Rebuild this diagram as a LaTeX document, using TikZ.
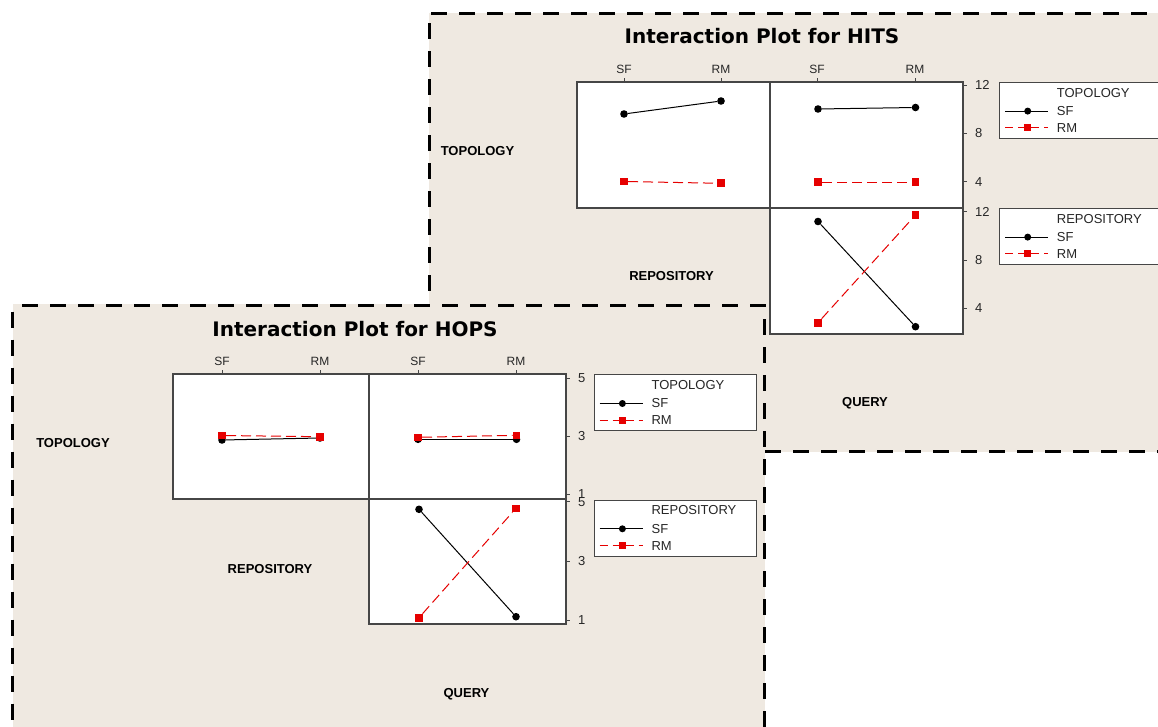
\documentclass[tikz,border=0pt]{standalone}
\usepackage{fontspec}
\setmainfont{Liberation Sans}
\newfontfamily\headfont{DejaVu Sans}
\definecolor{paper}{RGB}{239,233,225}
\definecolor{plotred}{RGB}{230,0,0}
\definecolor{axisgray}{RGB}{70,70,70}
\tikzset{
  panelrule/.style={line width=3.4pt, dash pattern=on 16pt off 12pt},
  plotframe/.style={draw=axisgray, line width=1.2pt, fill=white},
  keyframe/.style={draw=axisgray, line width=1pt, fill=white},
  tickmark/.style={draw=axisgray, line width=0.9pt},
  sfline/.style={black, line width=1pt},
  rmline/.style={plotred, line width=1pt, dash pattern=on 10pt off 5pt},
  keyrm/.style={plotred, line width=1.1pt, dash pattern=on 8pt off 5pt},
  sfdot/.style={circle, fill=black, inner sep=0pt, minimum size=7.6pt},
  rmsq/.style={rectangle, fill=plotred, inner sep=0pt, minimum size=7.6pt},
  plottitle/.style={font=\headfont\bfseries\fontsize{20}{22}\selectfont, anchor=base, inner sep=0pt},
  factorname/.style={font=\bfseries\fontsize{13}{15}\selectfont, inner sep=0pt},
  levelname/.style={font=\fontsize{12}{14}\selectfont, inner sep=0pt, text=black!85},
  ticklabel/.style={font=\fontsize{13}{15}\selectfont, inner sep=0pt, anchor=west, text=black!85},
  keytext/.style={font=\fontsize{13}{15}\selectfont, inner sep=0pt, anchor=west, text=black!85},
}
% legend block: prefix, left x, top y, right x, heading
\newcommand{\factorkey}[5]{%
  \draw[keyframe] (#2,#3) rectangle (#4,#3+56);
  \node[keytext] (#1head) at (#2+57.4,#3+10.3) {#5};
  \coordinate (#1sfA) at (#2+5.7,#3+28.8);
  \coordinate (#1sfB) at (#2+49,#3+28.8);
  \draw[sfline] (#1sfA) -- (#1sfB);
  \node[sfdot, minimum size=7pt] (#1sfMark) at (#2+28.4,#3+28.8) {};
  \node[keytext] (#1sf) at (#2+57.4,#3+28.8) {SF};
  \coordinate (#1rmA) at (#2+5.7,#3+45.6);
  \coordinate (#1rmB) at (#2+49,#3+45.6);
  \draw[keyrm] (#1rmA) -- (#1rmB);
  \node[rmsq, minimum size=7pt] (#1rmMark) at (#2+28.4,#3+45.6) {};
  \node[keytext] (#1rm) at (#2+57.4,#3+45.6) {RM};
}
\begin{document}
\begin{tikzpicture}[x=1pt,y=-1pt]
\clip (0,0) rectangle (1158,727);
\fill[white] (0,0) rectangle (1158,727);

% ================= HITS panel =================
\fill[paper] (429.3,13.3) rectangle (1180,451.7);
\draw[panelrule] (431,13.3) -- (1180,13.3);
\draw[panelrule] (429.3,23.3) -- (429.3,296);
\draw[panelrule] (765,451.7) -- (1180,451.7);

\node[plottitle] (hitsTitle) at (762,43.5) {Interaction Plot for HITS};

\draw[plotframe] (577,82) rectangle (770,208);
\draw[plotframe] (770,82) rectangle (963,208);
\draw[plotframe] (770,208) rectangle (963,334);

\foreach \x/\t [count=\i] in {624/SF,721/RM,817/SF,915/RM} {
  \draw[tickmark] (\x,82) -- (\x,78);
  \node[levelname] (hitsLevel\i) at (\x,69.3) {\t};
}
\foreach \y/\t [count=\i] in {85/12,133.3/8,181.7/4,211.7/12,260/8,308/4} {
  \draw[tickmark] (963,\y) -- (967,\y);
  \node[ticklabel] (hitsTick\i) at (975,\y) {\t};
}

\node[factorname] (hitsRowTop) at (477.5,150.7) {TOPOLOGY};
\node[factorname] (hitsRowMid) at (671.5,276.3) {REPOSITORY};
\node[factorname] (hitsRowBot) at (865,403.3) {QUERY};

% topology x repository
\node[sfdot] (hA1) at (624,114) {};
\node[sfdot] (hA2) at (721,101) {};
\draw[sfline] (hA1) -- (hA2);
\node[rmsq] (hB1) at (624,181.5) {};
\node[rmsq] (hB2) at (721,183.3) {};
\draw[rmline] (hB1) -- (hB2);
% topology x query
\node[sfdot] (hC1) at (818,109) {};
\node[sfdot] (hC2) at (915.5,107.5) {};
\draw[sfline] (hC1) -- (hC2);
\node[rmsq] (hD1) at (818,182.3) {};
\node[rmsq] (hD2) at (915.5,182.3) {};
\draw[rmline] (hD1) -- (hD2);
% repository x query
\node[sfdot] (hE1) at (818,221.5) {};
\node[sfdot] (hE2) at (915.5,326.7) {};
\draw[sfline] (hE1) -- (hE2);
\node[rmsq] (hF1) at (818,322.7) {};
\node[rmsq] (hF2) at (915.5,215) {};
\draw[rmline] (hF1) -- (hF2);

\factorkey{hitsTopo}{999.3}{82.3}{1180}{TOPOLOGY}
\factorkey{hitsRepo}{999.3}{208.3}{1180}{REPOSITORY}

% ================= HOPS panel =================
\fill[paper] (12.5,303.6) rectangle (764.7,740);
\draw[panelrule] (22,305.3) -- (766.4,305.3);
\draw[panelrule] (12.5,311.7) -- (12.5,740);
\draw[panelrule] (764.7,319.3) -- (764.7,740);

\node[plottitle] (hopsTitle) at (355,336.5) {Interaction Plot for HOPS};

\draw[plotframe] (173,374) rectangle (369,499);
\draw[plotframe] (369,374) rectangle (566,499);
\draw[plotframe] (369,499) rectangle (566,624);

\foreach \x/\t [count=\i] in {222/SF,320/RM,418/SF,516/RM} {
  \draw[tickmark] (\x,374) -- (\x,370);
  \node[levelname] (hopsLevel\i) at (\x,361.7) {\t};
}
\foreach \y/\t [count=\i] in {378.5/5,436/3,494/1,501.7/5,561/3,620.5/1} {
  \draw[tickmark] (566,\y) -- (570,\y);
  \node[ticklabel] (hopsTick\i) at (578,\y) {\t};
}

\node[factorname] (hopsRowTop) at (73,443.5) {TOPOLOGY};
\node[factorname] (hopsRowMid) at (270,568.7) {REPOSITORY};
\node[factorname] (hopsRowBot) at (466.5,694.3) {QUERY};

% topology x repository
\node[sfdot] (pA1) at (222,440) {};
\node[sfdot] (pA2) at (320,438) {};
\draw[sfline] (pA1) -- (pA2);
\node[rmsq] (pB1) at (222,435.5) {};
\node[rmsq] (pB2) at (320,436.7) {};
\draw[rmline] (pB1) -- (pB2);
% topology x query
\node[sfdot] (pC1) at (418,439.3) {};
\node[sfdot] (pC2) at (516.5,439.3) {};
\draw[sfline] (pC1) -- (pC2);
\node[rmsq] (pD1) at (418,437.3) {};
\node[rmsq] (pD2) at (516.5,435.3) {};
\draw[rmline] (pD1) -- (pD2);
% repository x query
\node[sfdot] (pE1) at (419,509.3) {};
\node[sfdot] (pE2) at (516,616.7) {};
\draw[sfline] (pE1) -- (pE2);
\node[rmsq] (pF1) at (419,617.7) {};
\node[rmsq] (pF2) at (516,508.3) {};
\draw[rmline] (pF1) -- (pF2);

\factorkey{hopsTopo}{594}{374.7}{756.7}{TOPOLOGY}
\factorkey{hopsRepo}{594}{500}{756.7}{REPOSITORY}
\end{tikzpicture}
\end{document}
